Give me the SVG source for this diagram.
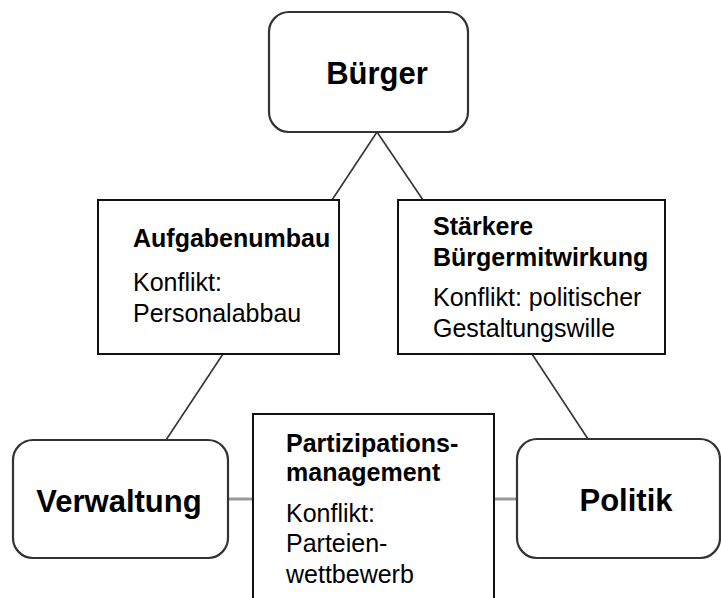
<svg xmlns="http://www.w3.org/2000/svg" width="721" height="598" viewBox="0 0 721 598">
<style>
.bg{fill:#fff}
.rnd{fill:#fff;stroke:#333;stroke-width:2.2}
.box{fill:#fff;stroke:#111;stroke-width:2}
.ln{stroke:#333;stroke-width:1.6;fill:none}
.hl{stroke:#999;stroke-width:3;fill:none}
.big{font-family:"Liberation Sans",Arial,sans-serif;font-weight:bold;font-size:31px;fill:#000;text-anchor:middle}
.t{font-family:"Liberation Sans",Arial,sans-serif;font-size:25px;fill:#000}
.b{font-weight:bold}
</style>
<rect class="bg" x="0" y="0" width="721" height="598"/>
<g id="connectors">
<line class="ln" x1="377" y1="132" x2="332" y2="200"/>
<line class="ln" x1="377" y1="132" x2="423" y2="200"/>
<line class="ln" x1="223" y1="354" x2="166" y2="440"/>
<line class="ln" x1="532" y1="354" x2="588" y2="439"/>
<line class="hl" x1="228" y1="499" x2="253" y2="499"/>
<line class="hl" x1="494" y1="499" x2="517" y2="499"/>
</g>
<g id="buerger">
<rect class="rnd" x="269" y="12" width="199" height="120" rx="20" ry="20"/>
<text class="big" x="377" y="84">Bürger</text>
</g>
<g id="aufgabenumbau">
<rect class="box" x="98" y="200" width="241" height="154"/>
<text class="t b" x="133" y="247">Aufgabenumbau</text>
<text class="t" x="133" y="291">Konflikt:</text>
<text class="t" x="133" y="322">Personalabbau</text>
</g>
<g id="buergermitwirkung">
<rect class="box" x="398" y="200" width="267" height="154"/>
<text class="t b" x="433" y="235">Stärkere</text>
<text class="t b" x="433" y="266">Bürgermitwirkung</text>
<text class="t" x="433" y="306">Konflikt: politischer</text>
<text class="t" x="433" y="337">Gestaltungswille</text>
</g>
<g id="verwaltung">
<rect class="rnd" x="13" y="440" width="215" height="118" rx="20" ry="20"/>
<text class="big" x="119" y="512">Verwaltung</text>
</g>
<g id="partizipation">
<rect class="box" x="253" y="414" width="241" height="200"/>
<text class="t b" x="286" y="452">Partizipations-</text>
<text class="t b" x="286" y="481">management</text>
<text class="t" x="286" y="522">Konflikt:</text>
<text class="t" x="286" y="552">Parteien-</text>
<text class="t" x="286" y="583">wettbewerb</text>
</g>
<g id="politik">
<rect class="rnd" x="517" y="439" width="203" height="119" rx="20" ry="20"/>
<text class="big" x="626" y="511">Politik</text>
</g>
</svg>
